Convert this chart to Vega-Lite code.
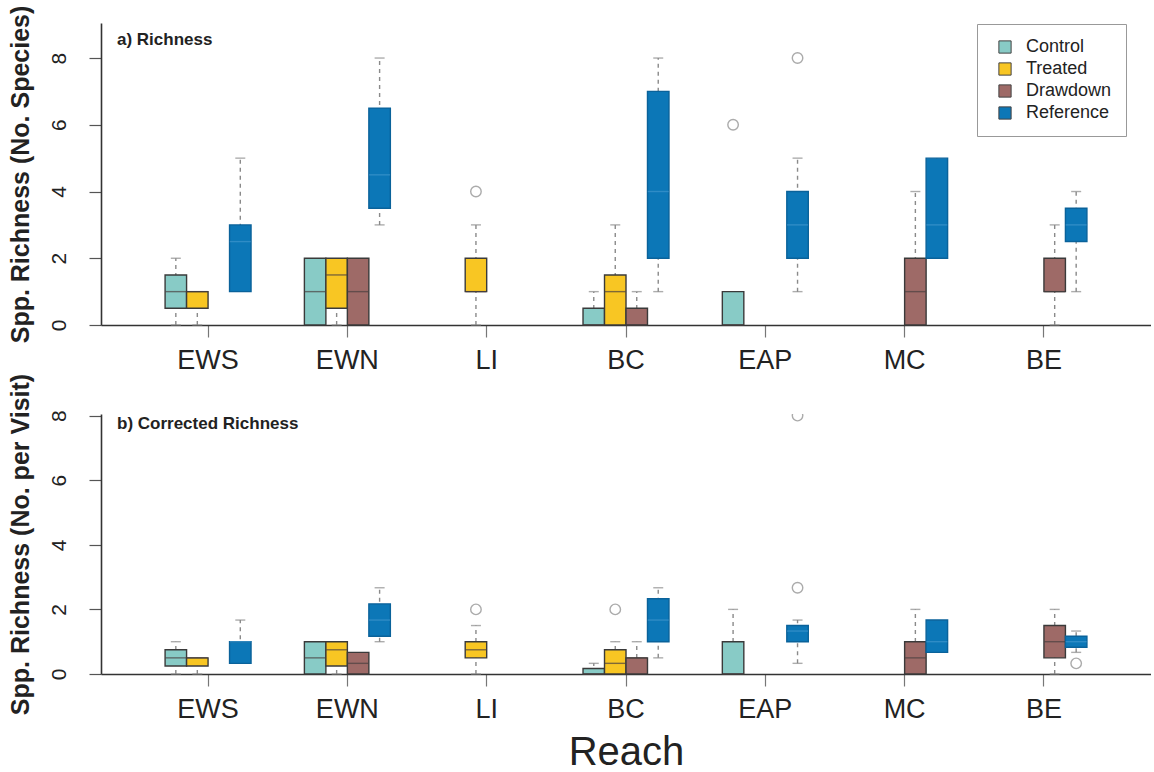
{
  "$schema": "https://vega.github.io/schema/vega-lite/v6.json",
  "background": "white",
  "padding": {"left": 7, "top": 5, "right": 0, "bottom": 2},
  "bounds": "flush",
  "spacing": 89,
  "config": {
    "view": {"stroke": null},
    "font": "Liberation Sans",
    "axis": {"grid": false}
  },
  "datasets": {
    "rich": [
      {"reach": "EWS", "group": "Control", "q1": 0.5, "med": 1, "q3": 1.5, "lo": 0, "hi": 2},
      {"reach": "EWS", "group": "Treated", "q1": 0.5, "med": 1, "q3": 1, "lo": 0, "hi": 1},
      {"reach": "EWS", "group": "Reference", "q1": 1, "med": 2.5, "q3": 3, "lo": 1, "hi": 5},
      {"reach": "EWN", "group": "Control", "q1": 0, "med": 1, "q3": 2, "lo": 0, "hi": 2},
      {"reach": "EWN", "group": "Treated", "q1": 0.5, "med": 1.5, "q3": 2, "lo": 0, "hi": 2},
      {"reach": "EWN", "group": "Drawdown", "q1": 0, "med": 1, "q3": 2, "lo": 0, "hi": 2},
      {"reach": "EWN", "group": "Reference", "q1": 3.5, "med": 4.5, "q3": 6.5, "lo": 3, "hi": 8},
      {"reach": "LI", "group": "Treated", "q1": 1, "med": 1, "q3": 2, "lo": 0, "hi": 3},
      {"reach": "BC", "group": "Control", "q1": 0, "med": 0, "q3": 0.5, "lo": 0, "hi": 1},
      {"reach": "BC", "group": "Treated", "q1": 0, "med": 1, "q3": 1.5, "lo": 0, "hi": 3},
      {"reach": "BC", "group": "Drawdown", "q1": 0, "med": 0, "q3": 0.5, "lo": 0, "hi": 1},
      {"reach": "BC", "group": "Reference", "q1": 2, "med": 4, "q3": 7, "lo": 1, "hi": 8},
      {"reach": "EAP", "group": "Control", "q1": 0, "med": 0, "q3": 1, "lo": 0, "hi": 1},
      {"reach": "EAP", "group": "Reference", "q1": 2, "med": 3, "q3": 4, "lo": 1, "hi": 5},
      {"reach": "MC", "group": "Drawdown", "q1": 0, "med": 1, "q3": 2, "lo": 0, "hi": 4},
      {"reach": "MC", "group": "Reference", "q1": 2, "med": 3, "q3": 5, "lo": 2, "hi": 5},
      {"reach": "BE", "group": "Drawdown", "q1": 1, "med": 1, "q3": 2, "lo": 0, "hi": 3},
      {"reach": "BE", "group": "Reference", "q1": 2.5, "med": 3, "q3": 3.5, "lo": 1, "hi": 4}
    ],
    "richOut": [
      {"reach": "LI", "group": "Treated", "value": 4},
      {"reach": "EAP", "group": "Control", "value": 6},
      {"reach": "EAP", "group": "Reference", "value": 8}
    ],
    "corr": [
      {"reach": "EWS", "group": "Control", "q1": 0.25, "med": 0.5, "q3": 0.75, "lo": 0, "hi": 1},
      {"reach": "EWS", "group": "Treated", "q1": 0.25, "med": 0.5, "q3": 0.5, "lo": 0, "hi": 0.5},
      {"reach": "EWS", "group": "Reference", "q1": 0.33, "med": 1, "q3": 1, "lo": 0.33, "hi": 1.67},
      {"reach": "EWN", "group": "Control", "q1": 0, "med": 0.5, "q3": 1, "lo": 0, "hi": 1},
      {"reach": "EWN", "group": "Treated", "q1": 0.25, "med": 0.75, "q3": 1, "lo": 0, "hi": 1},
      {"reach": "EWN", "group": "Drawdown", "q1": 0, "med": 0.33, "q3": 0.67, "lo": 0, "hi": 0.67},
      {"reach": "EWN", "group": "Reference", "q1": 1.17, "med": 1.67, "q3": 2.17, "lo": 1, "hi": 2.67},
      {"reach": "LI", "group": "Treated", "q1": 0.5, "med": 0.75, "q3": 1, "lo": 0, "hi": 1.5},
      {"reach": "BC", "group": "Control", "q1": 0, "med": 0, "q3": 0.17, "lo": 0, "hi": 0.33},
      {"reach": "BC", "group": "Treated", "q1": 0, "med": 0.33, "q3": 0.75, "lo": 0, "hi": 1},
      {"reach": "BC", "group": "Drawdown", "q1": 0, "med": 0.5, "q3": 0.5, "lo": 0, "hi": 1},
      {"reach": "BC", "group": "Reference", "q1": 1, "med": 1.67, "q3": 2.33, "lo": 0.5, "hi": 2.67},
      {"reach": "EAP", "group": "Control", "q1": 0, "med": 0, "q3": 1, "lo": 0, "hi": 2},
      {"reach": "EAP", "group": "Reference", "q1": 1, "med": 1.33, "q3": 1.5, "lo": 0.33, "hi": 1.67},
      {"reach": "MC", "group": "Drawdown", "q1": 0, "med": 0.5, "q3": 1, "lo": 0, "hi": 2},
      {"reach": "MC", "group": "Reference", "q1": 0.67, "med": 1, "q3": 1.67, "lo": 0.67, "hi": 1.67},
      {"reach": "BE", "group": "Drawdown", "q1": 0.5, "med": 1, "q3": 1.5, "lo": 0, "hi": 2},
      {"reach": "BE", "group": "Reference", "q1": 0.83, "med": 1, "q3": 1.17, "lo": 0.67, "hi": 1.33}
    ],
    "corrOut": [
      {"reach": "LI", "group": "Treated", "value": 2},
      {"reach": "BC", "group": "Treated", "value": 2},
      {"reach": "EAP", "group": "Reference", "value": 2.67},
      {"reach": "EAP", "group": "Reference", "value": 8},
      {"reach": "BE", "group": "Reference", "value": 0.33}
    ]
  },
  "vconcat": [
    {
      "width": 1050,
      "height": 302,
      "title": {"text": "a) Richness", "anchor": "start", "frame": "group", "offset": -44, "dx": 16, "fontSize": 17, "fontWeight": "bold", "color": "#222"},
      "encoding": {
        "x": {"field": "reach", "type": "nominal", "title": null,
          "scale": {"domain": ["EWS", "EWN", "LI", "BC", "EAP", "MC", "BE"], "paddingInner": 0.383, "paddingOuter": 0.46},
          "axis": {"labelAngle": 0, "labelFontSize": 27, "labelColor": "#222", "tickSize": 12, "tickColor": "#777", "tickWidth": 1.2, "domainColor": "#333", "domainWidth": 1.6, "labelPadding": 10}},
        "xOffset": {"field": "group", "type": "nominal", "scale": {"domain": ["Control", "Treated", "Drawdown", "Reference"], "paddingInner": 0, "paddingOuter": 0}}
      },
      "layer": [
        {
          "data": {"name": "rich"},
          "mark": {"type": "rule", "strokeDash": [4, 4], "strokeWidth": 1.4, "color": "#8a8a8a"},
          "encoding": {
            "y": {"field": "lo", "type": "quantitative", "scale": {"domain": [0, 9.05], "nice": false},
              "axis": {"values": [0, 2, 4, 6, 8], "labelAngle": -90, "labelFontSize": 21, "labelColor": "#222", "tickSize": 12, "tickColor": "#555", "tickWidth": 1.2, "domainColor": "#333", "domainWidth": 1.6, "labelPadding": 20, "title": "Spp. Richness (No. Species)", "titleFontSize": 25, "titleFontWeight": "bold", "titleColor": "#222", "titlePadding": 15}},
            "y2": {"field": "hi"}
          }
        },
        {
          "data": {"name": "rich"},
          "transform": [{"filter": "datum.hi > datum.q3"}],
          "mark": {"type": "tick", "size": 10, "thickness": 1.4, "color": "#8a8a8a"},
          "encoding": {"y": {"field": "hi", "type": "quantitative", "title": "Spp. Richness (No. Species)"}}
        },
        {
          "data": {"name": "rich"},
          "transform": [{"filter": "datum.lo < datum.q1"}],
          "mark": {"type": "tick", "size": 10, "thickness": 1.4, "color": "#8a8a8a"},
          "encoding": {"y": {"field": "lo", "type": "quantitative", "title": "Spp. Richness (No. Species)"}}
        },
        {
          "data": {"name": "rich"},
          "mark": {"type": "bar", "strokeWidth": 1.4},
          "encoding": {
            "y": {"field": "q1", "type": "quantitative", "title": "Spp. Richness (No. Species)"},
            "y2": {"field": "q3"},
            "fill": {"field": "group", "type": "nominal",
              "scale": {"domain": ["Control", "Treated", "Drawdown", "Reference"], "range": ["#88CBC6", "#F8C623", "#9E6A67", "#0C77B7"]},
              "legend": {"orient": "none", "legendX": 876, "legendY": 1, "title": null, "symbolType": "square", "symbolSize": 150, "symbolStrokeColor": "#444", "symbolStrokeWidth": 1, "labelFontSize": 18, "labelColor": "#222", "labelOffset": 12, "symbolOffset": 5, "rowPadding": 4, "padding": 14, "strokeColor": "#999", "fillColor": "white", "labelLimit": 200}},
            "stroke": {"condition": {"test": "datum.group === 'Reference'", "value": "#0A629A"}, "value": "#3a3a3a"}
          }
        },
        {
          "data": {"name": "rich"},
          "mark": {"type": "tick", "size": 21, "thickness": 1.4},
          "encoding": {
            "y": {"field": "med", "type": "quantitative", "title": "Spp. Richness (No. Species)"},
            "color": {"condition": {"test": "datum.group === 'Reference'", "value": "#3E95CC"}, "value": "#4a4040"}
          }
        },
        {
          "data": {"name": "richOut"},
          "mark": {"type": "point", "shape": "circle", "filled": false, "size": 110, "strokeWidth": 1.4, "color": "#888"},
          "encoding": {"y": {"field": "value", "type": "quantitative", "title": "Spp. Richness (No. Species)"}}
        }
      ]
    },
    {
      "width": 1050,
      "height": 260,
      "title": {"text": "b) Corrected Richness", "anchor": "start", "frame": "group", "offset": -60, "dx": 16, "fontSize": 17, "fontWeight": "bold", "color": "#222"},
      "encoding": {
        "x": {"field": "reach", "type": "nominal", "title": "Reach",
          "scale": {"domain": ["EWS", "EWN", "LI", "BC", "EAP", "MC", "BE"], "paddingInner": 0.383, "paddingOuter": 0.46},
          "axis": {"labelAngle": 0, "labelFontSize": 27, "labelColor": "#222", "tickSize": 12, "tickColor": "#777", "tickWidth": 1.2, "domainColor": "#333", "domainWidth": 1.6, "labelPadding": 10, "titleFontSize": 40, "titleFontWeight": "normal", "titleColor": "#222", "titlePadding": 10}},
        "xOffset": {"field": "group", "type": "nominal", "scale": {"domain": ["Control", "Treated", "Drawdown", "Reference"], "paddingInner": 0, "paddingOuter": 0}}
      },
      "layer": [
        {
          "data": {"name": "corr"},
          "mark": {"type": "rule", "strokeDash": [4, 4], "strokeWidth": 1.4, "color": "#8a8a8a"},
          "encoding": {
            "y": {"field": "lo", "type": "quantitative", "scale": {"domain": [0, 8.05], "nice": false},
              "axis": {"values": [0, 2, 4, 6, 8], "labelAngle": -90, "labelFontSize": 21, "labelColor": "#222", "tickSize": 12, "tickColor": "#555", "tickWidth": 1.2, "domainColor": "#333", "domainWidth": 1.6, "labelPadding": 20, "title": "Spp. Richness (No. per Visit)", "titleFontSize": 25, "titleFontWeight": "bold", "titleColor": "#222", "titlePadding": 15}},
            "y2": {"field": "hi"}
          }
        },
        {
          "data": {"name": "corr"},
          "transform": [{"filter": "datum.hi > datum.q3"}],
          "mark": {"type": "tick", "size": 10, "thickness": 1.4, "color": "#8a8a8a"},
          "encoding": {"y": {"field": "hi", "type": "quantitative", "title": "Spp. Richness (No. per Visit)"}}
        },
        {
          "data": {"name": "corr"},
          "transform": [{"filter": "datum.lo < datum.q1"}],
          "mark": {"type": "tick", "size": 10, "thickness": 1.4, "color": "#8a8a8a"},
          "encoding": {"y": {"field": "lo", "type": "quantitative", "title": "Spp. Richness (No. per Visit)"}}
        },
        {
          "data": {"name": "corr"},
          "mark": {"type": "bar", "strokeWidth": 1.4},
          "encoding": {
            "y": {"field": "q1", "type": "quantitative", "title": "Spp. Richness (No. per Visit)"},
            "y2": {"field": "q3"},
            "fill": {"field": "group", "type": "nominal",
              "scale": {"domain": ["Control", "Treated", "Drawdown", "Reference"], "range": ["#88CBC6", "#F8C623", "#9E6A67", "#0C77B7"]},
              "legend": {"orient": "none", "legendX": 876, "legendY": 1, "title": null, "symbolType": "square", "symbolSize": 150, "symbolStrokeColor": "#444", "symbolStrokeWidth": 1, "labelFontSize": 18, "labelColor": "#222", "labelOffset": 12, "symbolOffset": 5, "rowPadding": 4, "padding": 14, "strokeColor": "#999", "fillColor": "white", "labelLimit": 200}},
            "stroke": {"condition": {"test": "datum.group === 'Reference'", "value": "#0A629A"}, "value": "#3a3a3a"}
          }
        },
        {
          "data": {"name": "corr"},
          "mark": {"type": "tick", "size": 21, "thickness": 1.4},
          "encoding": {
            "y": {"field": "med", "type": "quantitative", "title": "Spp. Richness (No. per Visit)"},
            "color": {"condition": {"test": "datum.group === 'Reference'", "value": "#3E95CC"}, "value": "#4a4040"}
          }
        },
        {
          "data": {"name": "corrOut"},
          "mark": {"type": "point", "shape": "circle", "filled": false, "size": 110, "strokeWidth": 1.4, "color": "#888", "clip": true},
          "encoding": {"y": {"field": "value", "type": "quantitative", "title": "Spp. Richness (No. per Visit)"}}
        }
      ]
    }
  ]
}
